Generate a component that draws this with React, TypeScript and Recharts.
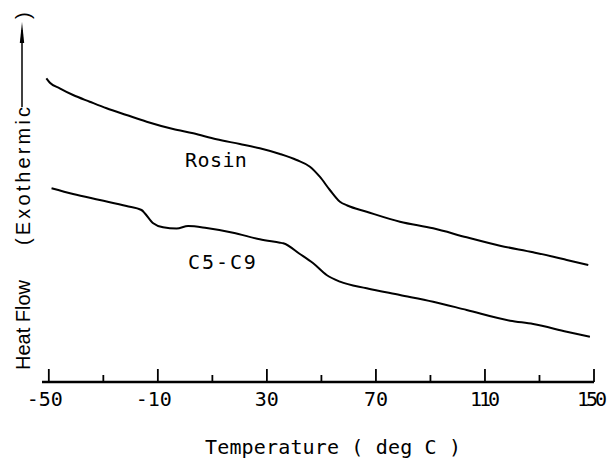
import React from "react"
import { LineChart, Line, XAxis, YAxis, ReferenceDot, Label } from "recharts"

// DSC traces. Heat flow in arbitrary units (exotherm up).
const rosinTemp = [-50.9, -49.6, -46.0, -41.1, -35.0, -28.8, -21.5, -14.1, -4.4, 3.0, 11.5, 20.1, 27.4, 34.8, 40.9, 45.8, 49.4, 53.1, 56.8, 59.5, 66.6, 78.8, 91.0, 103.3, 115.5, 127.7, 135.1, 140.0, 147.9]
const rosinFlow = [303.7, 299.3, 293.7, 287.0, 280.3, 273.7, 267.0, 260.3, 253.0, 248.7, 242.7, 238.0, 233.7, 228.0, 222.0, 215.3, 205.3, 192.0, 180.3, 176.5, 170.3, 160.3, 153.7, 144.7, 136.3, 129.7, 125.3, 122.0, 117.0]

const c5c9Temp = [-49.0, -41.1, -31.3, -21.5, -16.0, -14.8, -11.7, -8.1, -3.1, 1.1, 7.9, 17.6, 27.4, 34.8, 36.0, 42.1, 47.0, 51.9, 56.8, 66.6, 78.8, 91.0, 103.3, 119.2, 127.7, 140.0, 148.5]
const c5c9Flow = [193.7, 188.0, 182.0, 176.0, 172.0, 168.7, 158.7, 154.7, 153.5, 156.0, 154.0, 149.3, 142.7, 139.3, 138.7, 128.0, 118.7, 107.0, 100.3, 93.7, 87.0, 80.3, 72.0, 61.3, 58.0, 50.3, 45.3]

const majorTicks = [-50, -10, 30, 70, 110, 150]
const allTicks = [-50, -30, -10, 10, 30, 50, 70, 90, 110, 130, 150]

const rosin = rosinTemp.map((t, i) => ({ t, flow: rosinFlow[i] }))
const c5c9 = c5c9Temp.map((t, i) => ({ t, flow: c5c9Flow[i] }))

const MONO = "'DejaVu Sans Mono', 'Liberation Mono', monospace"
const SANS = "'Liberation Sans', Arial, sans-serif"

function TempTick({ x, y, payload }: any) {
  const v = payload.value
  const major = majorTicks.includes(v)
  const wide = String(v).length === 3 && v > 0
  const tx = v < 0 ? x - 4 : v === 150 ? x - 2 : x
  return (
    <g>
      <line x1={x} x2={x} y1={y} y2={y - (major ? 13 : 7)} stroke="#000" strokeWidth={1.8} />
      {major && (
        <text x={tx} y={y + 24} textAnchor="middle" fontFamily={MONO} fontSize={20} fill="#000"
          {...(wide ? { textLength: 30, lengthAdjust: "spacing" } : {})}>
          {v}
        </text>
      )}
    </g>
  )
}

function curveLabel(text: string, len: number) {
  return (p: any) => (
    <text x={p.viewBox.x} y={p.viewBox.y + 7} textAnchor="middle" fontFamily={MONO} fontSize={20} fill="#000"
      textLength={len} lengthAdjust="spacing">
      {text}
    </text>
  )
}

export default function App() {
  return (
    <div style={{ position: "absolute", left: 0, top: 0, width: 613, height: 460, background: "#fff" }}>
      <LineChart width={613} height={460} data={rosin} margin={{ top: 2, right: 19, left: 42, bottom: 48 }}>
        <XAxis dataKey="t" type="number" domain={[-52.5, 150]} ticks={allTicks} interval={0}
          tick={<TempTick />} tickLine={false} tickSize={0} tickMargin={0} height={30}
          axisLine={{ stroke: "#000", strokeWidth: 2.5 }}>
          <Label content={() => (
            <text x={205} y={454} fontFamily={MONO} fontSize={20} fill="#000" textLength={256} lengthAdjust="spacing">
              Temperature ( deg C )
            </text>
          )} />
        </XAxis>
        <YAxis hide type="number" domain={[0, 380]} />
        <Line data={rosin} dataKey="flow" type="monotone" stroke="#000" strokeWidth={2} dot={false} isAnimationActive={false} />
        <Line data={c5c9} dataKey="flow" type="monotone" stroke="#000" strokeWidth={2} dot={false} isAnimationActive={false} />
        <ReferenceDot x={11.3} y={222} r={0} stroke="none" fill="none" label={{ content: curveLabel("Rosin", 62) }} />
        <ReferenceDot x={13.5} y={120} r={0} stroke="none" fill="none" label={{ content: curveLabel("C5-C9", 68) }} />
      </LineChart>
      <svg width={613} height={460} style={{ position: "absolute", left: 0, top: 0, pointerEvents: "none" }}>
        <g transform="translate(30,370) rotate(-90)" fontFamily={SANS} fontSize={20} fill="#000">
          <text x={0} y={0}>Heat Flow</text>
          <text x={125} y={0} textLength={138} lengthAdjust="spacing">(Exothermic</text>
          <text x={351} y={0}>)</text>
        </g>
        <line x1={22} x2={22} y1={107} y2={30} stroke="#000" strokeWidth={1.5} />
        <path d="M22,22 L24.2,43 L19.8,43 Z" fill="#000" />
      </svg>
    </div>
  )
}
